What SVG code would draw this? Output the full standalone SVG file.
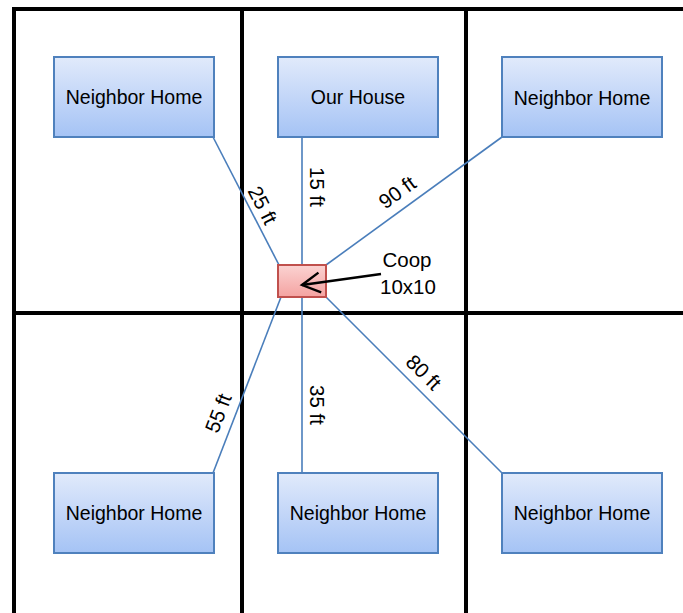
<svg xmlns="http://www.w3.org/2000/svg" width="683" height="613" viewBox="0 0 683 613">
<defs>
<linearGradient id="blueG" x1="0" y1="0" x2="0" y2="1">
<stop offset="0" stop-color="#E1EAFB"/>
<stop offset="1" stop-color="#A5C3F5"/>
</linearGradient>
<linearGradient id="redG" x1="0" y1="0" x2="0" y2="1">
<stop offset="0" stop-color="#FBD3D2"/>
<stop offset="1" stop-color="#F4A3A1"/>
</linearGradient>
<marker id="open" viewBox="0 0 26 26" refX="21" refY="13" markerWidth="26" markerHeight="26" markerUnits="userSpaceOnUse" orient="auto">
<path d="M3,3 L21,13 L3,23" fill="none" stroke="#000" stroke-width="2.4"/>
</marker>
</defs>
<style>
.grid{stroke:#000;stroke-width:4;fill:none}
.box{fill:url(#blueG);stroke:#4F81BD;stroke-width:2}
.coop{fill:url(#redG);stroke:#C0504D;stroke-width:2}
.t{font-family:"Liberation Sans",Arial,sans-serif;font-size:19.5px;fill:#000;text-anchor:middle;dominant-baseline:central}
.lbl{font-size:20.5px}
.conn{stroke:#4A7EBB;stroke-width:1.6;fill:none}
</style>
<rect width="683" height="613" fill="#fff"/>
<g id="grid">
<path class="grid" d="M14,613 V9 H683 M242,9 V613 M466,9 V613 M14,313 H683"/>
</g>
<g id="connectors">
<line class="conn" x1="213" y1="137" x2="279" y2="265"/>
<line class="conn" x1="302" y1="137" x2="302" y2="265"/>
<line class="conn" x1="502" y1="137" x2="326" y2="265"/>
<line class="conn" x1="281" y1="297" x2="213" y2="473"/>
<line class="conn" x1="302" y1="297" x2="302" y2="473"/>
<line class="conn" x1="326" y1="297" x2="502" y2="473"/>
<text class="t lbl" transform="translate(263,205) rotate(63)">25 ft</text>
<text class="t lbl" transform="translate(317,187) rotate(90)">15 ft</text>
<text class="t lbl" transform="translate(397,192) rotate(-36)">90 ft</text>
<text class="t lbl" transform="translate(218,413) rotate(-69)">55 ft</text>
<text class="t lbl" transform="translate(317,405) rotate(90)">35 ft</text>
<text class="t lbl" transform="translate(424,372) rotate(45)">80 ft</text>
</g>
<g id="n1"><rect class="box" x="54" y="57" width="160" height="80"/><text class="t" x="134" y="97">Neighbor Home</text></g>
<g id="n2"><rect class="box" x="278" y="57" width="160" height="80"/><text class="t" x="358" y="97">Our House</text></g>
<g id="n3"><rect class="box" x="502" y="57" width="160" height="80"/><text class="t" x="582" y="98">Neighbor Home</text></g>
<g id="n4"><rect class="box" x="54" y="473" width="160" height="80"/><text class="t" x="134" y="513">Neighbor Home</text></g>
<g id="n5"><rect class="box" x="278" y="473" width="160" height="80"/><text class="t" x="358" y="513">Neighbor Home</text></g>
<g id="n6"><rect class="box" x="502" y="473" width="160" height="80"/><text class="t" x="582" y="513">Neighbor Home</text></g>
<g id="coop">
<rect class="coop" x="278" y="265" width="48" height="32"/>
<line x1="381" y1="274" x2="302" y2="285" stroke="#000" stroke-width="2.4" marker-end="url(#open)"/>
<text class="t lbl" x="407" y="259">Coop</text>
<text class="t lbl" x="408" y="286">10x10</text>
</g>
</svg>
